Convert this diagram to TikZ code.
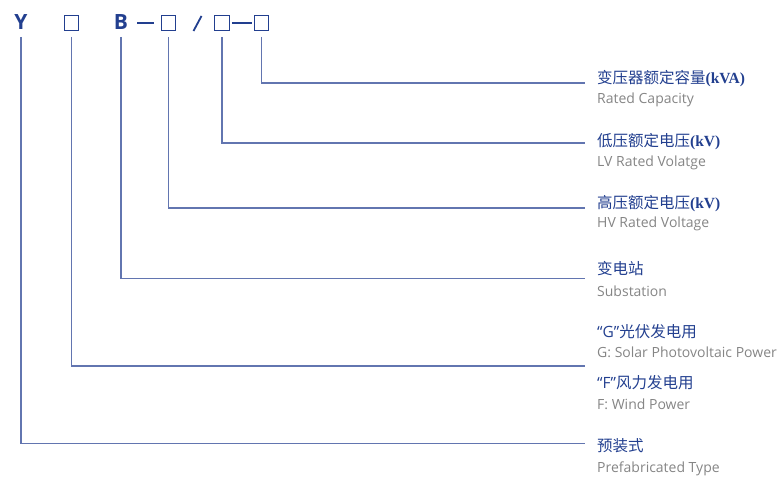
\documentclass[tikz,border=0pt]{standalone}
\usepackage{fontspec}
\setmainfont{Open Sans}
\newfontfamily\cjk{Noto Sans CJK SC}
\newfontfamily\serifb{Liberation Serif}
\definecolor{navy}{HTML}{223F8F}
\definecolor{lgray}{HTML}{858585}
\definecolor{connc}{HTML}{6275B0}
\begin{document}
\begin{tikzpicture}[x=1pt,y=-1pt,
  sym/.style={font=\fontsize{21}{21}\selectfont\bfseries, text=navy, inner sep=0},
  sq/.style={draw=navy, line width=1.3pt, minimum size=14.5pt, inner sep=0, outer sep=0},
  cn/.style={anchor=base west, inner sep=0, text=navy, font=\cjk\fontsize{15.5}{15.5}\selectfont},
  en/.style={anchor=base west, inner sep=0, text=lgray, font=\fontsize{14}{14}\selectfont},
  connl/.style={draw=connc, line width=1.1pt},
  dashl/.style={draw=navy, line width=1.4pt}]
\useasboundingbox (0,0) rectangle (783,476);
% top code row
\node[sym] (Y) at (21,22.5) {Y};
\node[sq] (s1) at (71.5,23) {};
\node[sym] (B) at (121,22.5) {B};
\node[sq] (s2) at (168.5,23) {};
\node[sq] (s3) at (222,23) {};
\node[sq] (s4) at (261.5,23) {};
\draw[dashl, shorten <=9pt, shorten >=7pt] (B.east |- s2) -- (s2.west);
\draw[navy, line width=1.8pt] (193.5,31) -- (201.5,16);
\draw[dashl, shorten <=2.5pt, shorten >=2pt] (s3.east) -- (s4.west);
% connector ends
\coordinate (topy) at (0,37);
\coordinate (e1) at (585,83);
\coordinate (e2) at (585,143);
\coordinate (e3) at (585,208);
\coordinate (e4) at (585,278.5);
\coordinate (e5) at (585,366);
\coordinate (e6) at (585,443.5);
\draw[connl] (s4 |- topy) |- (e1);
\draw[connl] (s3 |- topy) |- (e2);
\draw[connl] (s2 |- topy) |- (e3);
\draw[connl] (B |- topy) |- (e4);
\draw[connl] (s1 |- topy) |- (e5);
\draw[connl] (Y |- topy) |- (e6);
% labels
\node[cn] (c1) at (597,84) {变压器额定容量{\serifb\bfseries (kVA)}};
\node[en] (t1) at (597,103.5) {Rated Capacity};
\node[cn] (c2) at (597,146.5) {低压额定电压{\serifb\bfseries (kV)}};
\node[en] (t2) at (597,166.5) {LV Rated Volatge};
\node[cn] (c3) at (597,208) {高压额定电压{\serifb\bfseries (kV)}};
\node[en] (t3) at (597,227.5) {HV Rated Voltage};
\node[cn] (c4) at (597,274.5) {变电站};
\node[en] (t4) at (597,296) {Substation};
\node[cn] (c5) at (597,337.5) {{\rmfamily “G”}光伏发电用};
\node[en] (t5) at (597,357.5) {G: Solar Photovoltaic Power};
\node[cn] (c6) at (597,388) {{\rmfamily “F”}风力发电用};
\node[en] (t6) at (597,409) {F: Wind Power};
\node[cn] (c7) at (597,451.5) {预装式};
\node[en] (t7) at (597,472) {Prefabricated Type};
\end{tikzpicture}
\end{document}
